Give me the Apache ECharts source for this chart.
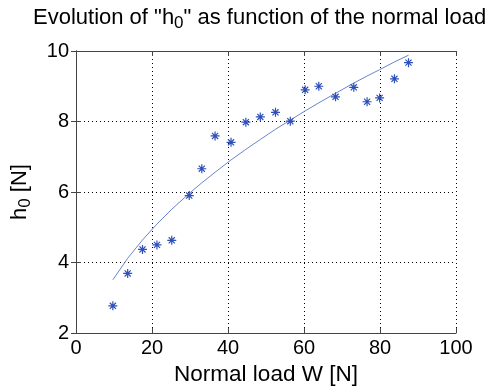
<!DOCTYPE html>
<html>
<head>
<meta charset="utf-8">
<script src="https://cdn.jsdelivr.net/npm/echarts@6/dist/echarts.min.js"></script>
<style>html,body{margin:0;padding:0;background:#fff}#c{width:502px;height:391px}</style>
</head>
<body>
<div id="c"></div>
<script>
var loadW = [9.7, 13.6, 17.5, 21.3, 25.2, 29.8, 33.1, 36.6, 40.8, 44.7, 48.5, 52.5, 56.4, 60.3, 63.9, 68.3, 73.1, 76.6, 79.9, 83.8, 87.5];
var h0Measured = [2.77, 3.69, 4.37, 4.50, 4.63, 5.90, 6.66, 7.59, 7.41, 7.98, 8.13, 8.26, 8.01, 8.90, 9.00, 8.70, 8.97, 8.56, 8.67, 9.21, 9.67];
var h0Fit = [3.51, 4.12, 4.64, 5.09, 5.51, 5.96, 6.26, 6.56, 6.91, 7.21, 7.49, 7.78, 8.04, 8.30, 8.53, 8.80, 9.09, 9.29, 9.47, 9.69, 9.88];
var xTicks = [0, 20, 40, 60, 80, 100];
var yTicks = [2, 4, 6, 8, 10];

var FONT = 'Liberation Sans, Arial, sans-serif';
var AX = '#444';
function pairs(xs, ys){ return xs.map(function(x,i){ return [x, ys[i]]; }); }

var chart = echarts.init(document.getElementById('c'), null, {renderer:'canvas'});
var baseAxis = {
  axisLine:{show:true, lineStyle:{color:AX, width:1}},
  axisTick:{show:true, inside:true, length:5, lineStyle:{color:AX}},
  splitLine:{show:false}
};
chart.setOption({
  animation:false,
  backgroundColor:'#fff',
  title:{
    text:'Evolution of "h{sub|0}" as function of the normal load',
    left:28, top:-2,
    textStyle:{fontFamily:FONT, fontSize:22, fontWeight:'normal', color:'#000',
      rich:{sub:{fontFamily:FONT, fontSize:17, color:'#000', padding:[12,0,0,0]}}}
  },
  grid:{left:76, right:46, top:51, bottom:58},
  xAxis:[
    Object.assign({}, baseAxis, {
      type:'value', min:xTicks[0], max:xTicks[xTicks.length-1], interval:20, position:'bottom',
      name:'Normal load W [N]', nameLocation:'middle', nameGap:28,
      nameTextStyle:{fontFamily:FONT, fontSize:22.5, color:'#000'},
      axisLabel:{fontFamily:FONT, fontSize:20, color:'#000', margin:5},
      splitLine:{show:true, lineStyle:{color:'#000', type:[1,3], width:1}}
    }),
    Object.assign({}, baseAxis, {
      type:'value', min:xTicks[0], max:xTicks[xTicks.length-1], interval:20, position:'top',
      axisLabel:{show:false}
    })
  ],
  yAxis:[
    Object.assign({}, baseAxis, {
      type:'value', min:yTicks[0], max:yTicks[yTicks.length-1], interval:2, position:'left',
      name:'h{sub|0} [N]', nameLocation:'middle', nameGap:42, nameRotate:90,
      nameTextStyle:{fontFamily:FONT, fontSize:22, color:'#000',
        rich:{sub:{fontFamily:FONT, fontSize:17, color:'#000', padding:[12,0,0,0]}}},
      axisLabel:{fontFamily:FONT, fontSize:20, color:'#000', margin:7},
      splitLine:{show:true, lineStyle:{color:'#000', type:[1,3], width:1}}
    }),
    Object.assign({}, baseAxis, {
      type:'value', min:yTicks[0], max:yTicks[yTicks.length-1], interval:2, position:'right',
      axisLabel:{show:false}
    })
  ],
  series:[
    {
      type:'line', name:'fit', data:pairs(loadW, h0Fit), showSymbol:false, symbol:'none',
      lineStyle:{color:'#6a85cc', width:1}, silent:true, z:2
    },
    {
      type:'scatter', name:'measured', data:pairs(loadW, h0Measured),
      symbol:'path://M5 0L5 10M0 5L10 5M1.6 1.6L8.4 8.4M8.4 1.6L1.6 8.4',
      symbolSize:9,
      itemStyle:{color:'rgba(0,0,0,0)', borderColor:'#2f50b8', borderWidth:1.2, opacity:1},
      z:3
    }
  ]
});
</script>
</body>
</html>
